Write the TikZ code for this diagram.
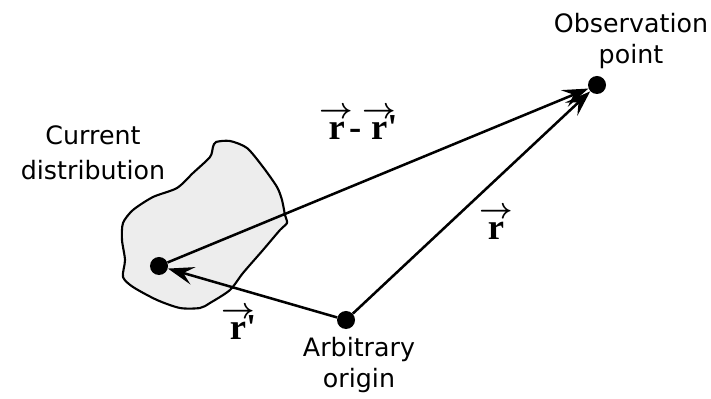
\documentclass[tikz,border=0pt]{standalone}
\usepackage{amsmath}
\usepackage{fontspec}
\setmainfont{Liberation Serif}
\newfontfamily\sansf{DejaVu Sans}
\usetikzlibrary{arrows.meta}
% lettera con freccia sopra
\newcommand{\vecr}[1]{\leavevmode\setbox0\hbox{#1}%
  \rlap{\hbox to \wd0{\hss\raisebox{15pt}{\fontsize{20}{20}\selectfont$\boldsymbol{\rightarrow}$}\hss}}\box0}
\tikzset{
  dot/.style  = {circle, fill=black, minimum size=4.5mm, inner sep=0},
  vec/.style  = {line width=1.8pt, -{Stealth[length=6.5mm, width=4.5mm, inset=2.5mm]}},
  blob/.style = {line width=1.5pt, fill=black!7, line join=round},
  lbl/.style  = {align=center, inner sep=0, font=\sansf\fontsize{18}{21.5}\selectfont},
  vlbl/.style = {anchor=base, inner sep=0, font=\bfseries\fontsize{26}{28}\selectfont}
}

\begin{document}
\begin{tikzpicture}[x=0.025cm, y=-0.025cm]
  \useasboundingbox (0,0) rectangle (711,399);

  % distribuzione di corrente
  \draw[blob] plot[smooth cycle, tension=0.45] coordinates {
    (213,147) (216,142) (230,141) (247,148) (263,167) (277,187) (282,200)
    (285,215) (287,223) (280,230) (263,250) (243,273) (230,290) (210,303)
    (200,308) (180,308) (157,300) (133,287) (123,277) (125,260) (122,240)
    (123,223) (133,210) (153,197) (177,188) (193,173) (210,157)};

  % punti
  \node[dot] (S) at (159,266) {};
  \node[dot] (O) at (346,320) {};
  \node[dot] (P) at (597,85)  {};

  % vettori
  \draw[vec] (S) -- (P);
  \draw[vec] (O) -- (P);
  \draw[vec] (O) -- (S);

  % testi
  \node[lbl, font=\sansf\fontsize{18}{25}\selectfont] (cd) at (93,153) {Current\\distribution};
  \node[lbl] (op) at (631,41) {Observation\\point};
  \node[lbl] (ao) at (359,365) {Arbitrary\\origin};

  \node[vlbl] (rr) at (363,140) {\vecr{r}\hspace{3pt}-\hspace{7pt}\vecr{r}\textquotesingle};
  \node[vlbl] (r)  at (496,240) {\vecr{r}};
  \node[vlbl] (rp) at (243,340) {\vecr{r}\textquotesingle};
\end{tikzpicture}
\end{document}
